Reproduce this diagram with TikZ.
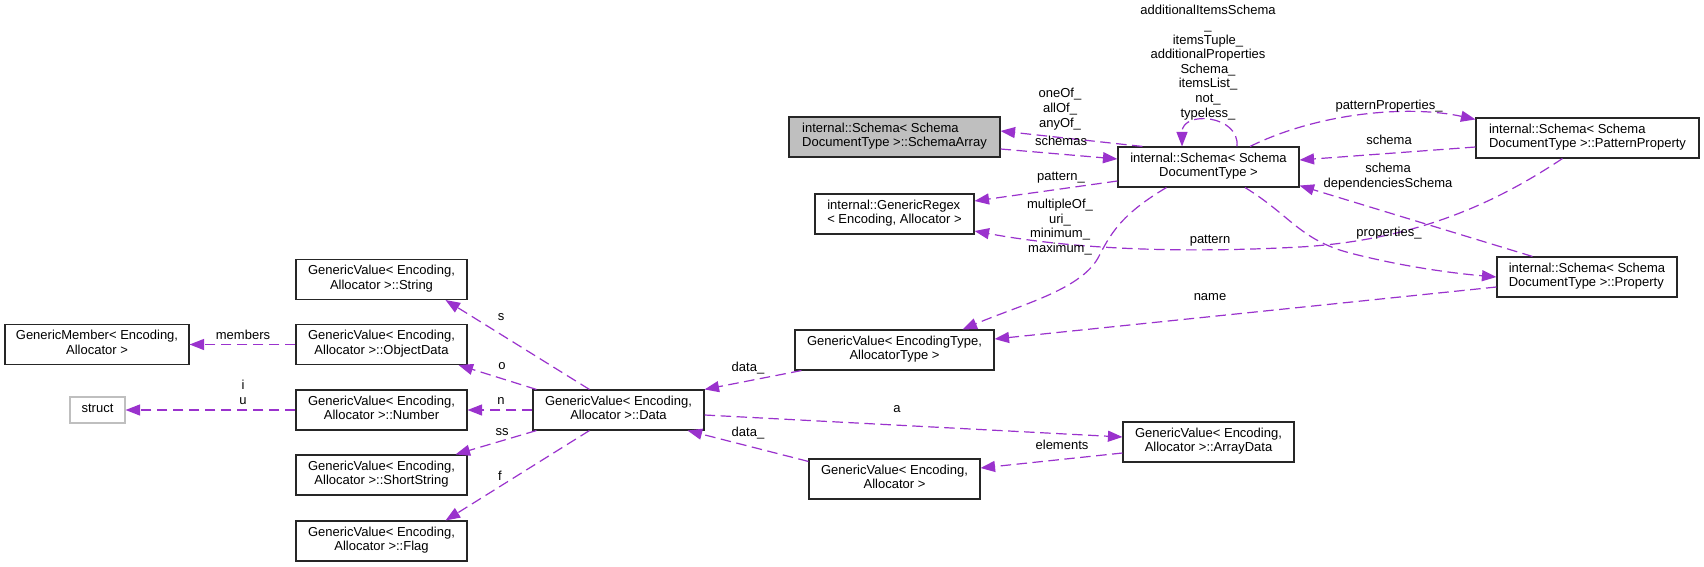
\documentclass[tikz,border=0pt]{standalone}
\usepackage{fontspec}
\setmainfont{Liberation Sans}
\usetikzlibrary{arrows.meta,calc}
\definecolor{edgecol}{RGB}{154,50,205}
\definecolor{greyfill}{RGB}{191,191,191}
\begin{document}
\begin{tikzpicture}[x=1bp,y=-1bp,
  txt/.style={font=\fontsize{13bp}{14.6bp}\selectfont, execute at begin node=\strut, execute at end node=\strut},
  cbox/.style={txt, draw=black!85, line width=1.1bp, fill=white, minimum height=40bp, inner xsep=2bp, inner ysep=0bp, align=center},
  lbox/.style={cbox, align=left},
  elabel/.style={txt, inner sep=0bp, align=center},
  uses/.style={edgecol, line width=1.2bp, dash pattern=on 10.5bp off 5.5bp, -{Triangle[length=14.5bp,width=11bp]}},
]
\fill[white] (0,0) rectangle (1704,567);
\useasboundingbox (0,0) rectangle (1704,567);

% nodes
\node[lbox, fill=greyfill, minimum width=211bp] (SA) at (894.5,137) {internal::Schema< Schema\\DocumentType >::SchemaArray};
\node[cbox, minimum width=181bp] (S) at (1208.5,167) {internal::Schema< Schema\\DocumentType >};
\node[lbox, minimum width=223bp] (PP) at (1587.5,138) {internal::Schema< Schema\\DocumentType >::PatternProperty};
\node[lbox, minimum width=159bp] (GR) at (894.5,214) {internal::GenericRegex\\< Encoding, Allocator >};
\node[lbox, minimum width=180bp] (P) at (1587,277) {internal::Schema< Schema\\DocumentType >::Property};
\node[cbox, minimum width=199bp] (ET) at (894.5,350) {GenericValue< EncodingType,\\AllocatorType >};
\node[cbox, minimum width=171bp] (D) at (618.5,410) {GenericValue< Encoding,\\Allocator >::Data};
\node[cbox, minimum width=171bp] (A) at (894.5,479) {GenericValue< Encoding,\\Allocator >};
\node[cbox, minimum width=171bp] (AD) at (1208.5,442) {GenericValue< Encoding,\\Allocator >::ArrayData};
\node[cbox, minimum width=171bp] (Str) at (381.5,279.5) {GenericValue< Encoding,\\Allocator >::String};
\node[cbox, minimum width=171bp] (OD) at (381.5,344.5) {GenericValue< Encoding,\\Allocator >::ObjectData};
\node[cbox, minimum width=171bp] (Num) at (381.5,410) {GenericValue< Encoding,\\Allocator >::Number};
\node[cbox, minimum width=171bp] (SS) at (381.5,475) {GenericValue< Encoding,\\Allocator >::ShortString};
\node[cbox, minimum width=171bp] (Fl) at (381.5,541) {GenericValue< Encoding,\\Allocator >::Flag};
\node[cbox, minimum width=184bp] (GM) at (97,344.5) {GenericMember< Encoding,\\Allocator >};
\node[cbox, draw=greyfill, minimum width=55bp, minimum height=26bp] (St) at (97.5,410) {struct};

% edges
\draw[uses] ($(S.north west)+(25,0)$) -- ($(SA.east)+(0,-6)$);
\draw[uses] ($(SA.east)+(0,12)$) -- ($(S.west)+(0,-8)$);
\draw[uses] ($(S.west)+(0,14)$) -- ($(GR.east)+(0,-13)$);
\draw[uses] ($(S.south west)+(49,0)$) .. controls (1120,215) and (1110,235) .. (1098,258)
            .. controls (1080,290) and (1020,305) .. ($(ET.north east)+(-32,0)$);
\draw[uses] ($(S.north)+(28.5,0)$) .. controls (1240,115) and (1182,110) .. ($(S.north)+(-26.5,0)$);
\draw[uses] ($(S.north)+(41.5,0)$) .. controls (1320,112) and (1410,105) .. ($(PP.north west)+(0,2)$);
\draw[uses] ($(PP.west)+(0,9)$) -- ($(S.east)+(0,-7)$);
\draw[uses] ($(P.north west)+(36,0)$) -- ($(S.south east)+(0,-2)$);
\draw[uses] ($(S.south)+(36.5,0)$) .. controls (1290,215) and (1300,240) .. (1350,253)
            .. controls (1400,266) and (1450,273) .. (P.west);
\draw[uses] ($(PP.south west)+(87,0)$) .. controls (1500,200) and (1420,240) .. (1300,247)
            .. controls (1150,255) and (1050,245) .. ($(GR.east)+(0,17)$);
\draw[uses] ($(P.west)+(0,10)$) -- ($(ET.east)+(0,-11)$);
\draw[uses] ($(ET.south west)+(7,0)$) -- (D.north east);
\draw[uses] ($(A.north west)+(0,3)$) -- ($(D.south east)+(-17,0)$);
\draw[uses] ($(D.east)+(0,5)$) -- ($(AD.west)+(0,-5)$);
\draw[uses] ($(AD.west)+(0,11)$) -- ($(A.east)+(0,-11)$);
\draw[uses] ($(D.north west)+(57,0)$) -- ($(Str.south east)+(-22,0)$);
\draw[uses] ($(D.north west)+(4,0)$) -- ($(OD.south east)+(-9,0)$);
\draw[uses] (D.west) -- (Num.east);
\draw[uses] ($(D.south west)+(4,0)$) -- ($(SS.north east)+(-12,0)$);
\draw[uses] ($(D.south west)+(57,0)$) -- ($(Fl.north east)+(-22,0)$);
\draw[uses] (OD.west) -- (GM.east);
\draw[uses] (Num.west) -- (St.east);

% labels
\node[elabel] (L1) at (1060,110) {oneOf\_\\allOf\_\\anyOf\_};
\node[elabel] (L2) at (1061,143) {schemas};
\node[elabel] (L3) at (1061,178) {pattern\_};
\node[elabel] (L4) at (1060,228) {multipleOf\_\\uri\_\\minimum\_\\maximum\_};
\node[elabel] (L5) at (1208,63.5) {additionalItemsSchema\\\_\\itemsTuple\_\\additionalProperties\\Schema\_\\itemsList\_\\not\_\\typeless\_};
\node[elabel] (L6) at (1389,107) {patternProperties\_};
\node[elabel] (L7) at (1389,142) {schema};
\node[elabel] (L8) at (1388,177.5) {schema\\dependenciesSchema};
\node[elabel] (L9) at (1389,234) {properties\_};
\node[elabel] (L10) at (1210,241) {pattern};
\node[elabel] (L11) at (1210,298) {name};
\node[elabel] (L12) at (748,369) {data\_};
\node[elabel] (L13) at (748,434) {data\_};
\node[elabel] (L14) at (897,410) {a};
\node[elabel] (L15) at (1062,447) {elements};
\node[elabel] (L16) at (501,318) {s};
\node[elabel] (L17) at (502,367) {o};
\node[elabel] (L18) at (501,402) {n};
\node[elabel] (L19) at (502,433) {ss};
\node[elabel] (L20) at (500,478) {f};
\node[elabel] (L21) at (243,337) {members};
\node[elabel] (L22) at (243,394.5) {i\\u};
\end{tikzpicture}
\end{document}
